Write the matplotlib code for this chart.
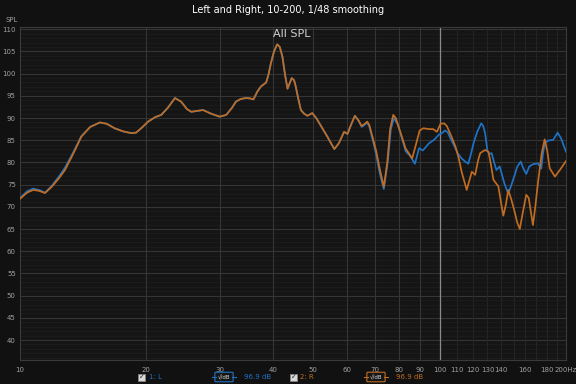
import matplotlib
matplotlib.use("Agg")
import matplotlib.pyplot as plt
from matplotlib.patches import FancyBboxPatch, Rectangle

# ---------------- data ----------------
freq_right = [10.0, 10.4, 10.75, 11.1, 11.47, 11.9, 12.4, 12.8, 13.4, 14.0, 14.7, 15.5, 16.1, 16.8,
              17.6, 18.4, 18.9, 19.5, 20.2, 21.0, 21.7, 22.5, 23.4, 24.2, 25.0, 25.6, 26.4, 27.3,
              28.5, 29.9, 31.0, 32.0, 32.7, 33.6, 34.6, 35.4, 36.0, 36.8, 37.5, 38.6, 39.1, 39.6,
              40.3, 41.0, 41.6, 42.2, 42.8, 43.4, 43.9, 44.4, 45.0, 45.4, 46.0, 46.7, 47.5, 48.4,
              49.7, 50.8, 52.0, 54.0, 56.1, 57.5, 59.2, 60.3, 61.5, 62.8, 64.0, 65.2, 66.3, 67.2,
              68.0, 69.5, 70.5, 72.0, 73.6, 75.0, 76.2, 77.5, 78.6, 80.5, 82.9, 84.5, 86.0, 87.5,
              89.6, 91.5, 94.3, 96.5, 98.5, 100.5, 102.5, 104.0, 106.5, 109.0, 111.0, 112.8, 116.0,
              119.3, 121.5, 123.5, 124.9, 128.3, 130.7, 132.5, 134.3, 138.0, 140.0, 141.8, 143.8,
              145.7, 148.0, 150.5, 153.0, 155.2, 158.0, 160.8, 163.0, 166.8, 169.0, 171.4, 175.0,
              177.9, 180.5, 182.9, 188.2, 193.4, 200.0]
spl_right = [71.8, 73.2, 73.8, 73.6, 73.1, 74.5, 76.5, 78.3, 82.0, 85.8, 88.0, 89.0, 88.7, 87.7,
             87.0, 86.6, 86.7, 87.8, 89.2, 90.2, 90.7, 92.3, 94.5, 93.7, 92.0, 91.4, 91.6, 91.8,
             91.0, 90.3, 90.7, 92.3, 93.7, 94.3, 94.5, 94.4, 94.2, 96.0, 97.1, 98.0, 99.8, 102.3,
             105.0, 106.6, 106.0, 103.8, 99.8, 96.6, 97.8, 99.0, 98.5, 97.1, 94.5, 91.8, 91.0, 90.5,
             91.1, 90.0, 88.4, 85.8, 83.0, 84.3, 86.9, 86.4, 88.5, 90.5, 89.5, 88.2, 88.7, 89.2,
             88.4, 85.0, 82.8, 78.5, 74.5, 80.0, 87.5, 90.7, 90.0, 87.0, 83.2, 82.0, 80.9, 83.5,
             87.2, 87.7, 87.5, 87.5, 86.9, 88.7, 88.8, 88.2, 86.0, 83.6, 81.0, 77.9, 73.8,
             77.9, 77.2, 80.5, 82.1, 82.8, 82.4, 79.5, 76.1, 74.6, 71.0, 68.0, 70.5,
             73.8, 71.8, 69.3, 66.5, 65.0, 69.0, 72.7, 72.0, 65.9, 70.0, 75.3, 82.0,
             85.2, 82.5, 78.7, 76.8, 78.3, 80.3]

freq_left = [10.0, 10.4, 10.75, 11.1, 11.47, 11.9, 12.4, 12.8, 13.4, 14.0, 14.7, 15.5, 16.1, 16.8,
             17.6, 18.4, 18.9, 19.5, 20.2, 21.0, 21.7, 22.5, 23.4, 24.2, 25.0, 25.6, 26.4, 27.3,
             28.5, 29.9, 31.0, 32.0, 32.7, 33.6, 34.6, 35.4, 36.0, 36.8, 37.5, 38.6, 39.1, 39.6,
             40.3, 41.0, 41.6, 42.2, 42.8, 43.4, 43.9, 44.4, 45.0, 45.4, 46.0, 46.7, 47.5, 48.4,
             49.7, 50.8, 52.0, 54.0, 56.1, 57.5, 59.2, 60.3, 61.5, 62.8, 64.0, 65.2, 66.3, 67.2,
             68.0, 69.5, 70.5, 72.0, 73.6, 75.2, 76.5, 77.8, 79.5, 81.5, 83.0, 85.0, 87.3, 89.3,
             91.2, 94.3, 97.0, 99.7, 101.0, 103.0, 104.5, 106.0, 108.0, 110.5, 112.8, 115.0, 117.0,
             118.8, 120.4, 123.0, 125.6, 127.0, 128.3, 130.0, 131.5, 133.0, 134.8, 136.5, 139.0,
             140.5, 142.6, 145.7, 148.0, 150.5, 153.0, 156.0, 158.5, 160.8, 163.5, 167.0, 171.4,
             174.6, 176.0, 177.9, 181.0, 186.5, 191.0, 194.5, 200.0]
spl_left = [72.0, 73.5, 74.1, 73.8, 73.2, 74.7, 76.9, 78.8, 82.3, 85.9, 88.0, 89.0, 88.7, 87.7,
            87.0, 86.6, 86.7, 87.8, 89.2, 90.2, 90.7, 92.3, 94.5, 93.7, 92.0, 91.4, 91.6, 91.8,
            91.0, 90.3, 90.7, 92.3, 93.7, 94.3, 94.5, 94.4, 94.2, 96.0, 97.1, 98.0, 99.8, 102.3,
            105.0, 106.6, 106.0, 103.8, 99.8, 96.6, 97.8, 99.0, 98.5, 97.1, 94.5, 91.8, 91.0, 90.5,
            91.1, 90.0, 88.4, 85.8, 83.0, 84.3, 86.9, 86.4, 88.5, 90.5, 89.5, 88.0, 88.5, 89.0,
            88.0, 84.5, 82.0, 77.5, 74.0, 80.0, 87.5, 90.0, 88.5, 85.0, 82.5, 81.5, 79.7, 83.2,
            82.7, 84.3, 85.1, 86.3, 86.5, 87.2, 86.8, 85.5, 84.0, 82.0, 80.9, 80.2, 79.7,
            82.0, 84.3, 87.0, 88.8, 88.2, 86.6, 82.5, 81.9, 82.1, 80.0, 78.3, 79.1,
            77.5, 75.3, 72.9, 74.8, 76.8, 79.0, 80.2, 78.5, 77.4, 79.1, 79.6, 79.8,
            78.6, 81.5, 84.3, 84.9, 85.1, 86.7, 85.5, 82.4]

major_x_ticks = [10, 20, 30, 40, 50, 60, 70, 80, 90, 100]
minor_x_ticks = [110, 120, 130, 140, 150, 160, 170, 180, 190]
x_tick_values = [10, 20, 30, 40, 50, 60, 70, 80, 90, 100, 110, 120, 130, 140, 160, 180, 200]
x_tick_labels = ["10", "20", "30", "40", "50", "60", "70", "80", "90", "100",
                 "110", "120", "130", "140", "160", "180", "200Hz"]
y_tick_values = [40, 45, 50, 55, 60, 65, 70, 75, 80, 85, 90, 95, 100, 105, 110]

# ---------------- style ----------------
BG = "#111111"
AX_BG = "#151515"
ORANGE = "#c06c22"
BLUE = "#1f72c6"
TXT = "#a0a0a0"

fig = plt.figure(figsize=(5.76, 3.84), dpi=100, facecolor=BG)
ax = fig.add_axes([20 / 576, 24 / 384, 546 / 576, 333 / 384])
ax.set_facecolor(AX_BG)

ax.set_xscale("log")
ax.set_xlim(10, 200)
ax.set_ylim(35.5, 110.5)

# grid: faint 1 dB lines, major 5 dB lines
for v in range(36, 111):
    if v % 5 != 0:
        ax.axhline(v, color="#1d1d1d", lw=0.6, zorder=0)
for v in y_tick_values:
    ax.axhline(v, color="#353535", lw=0.8, zorder=0)
for v in major_x_ticks:
    ax.axvline(v, color="#353535", lw=0.8, zorder=0)
for v in minor_x_ticks:
    ax.axvline(v, color="#252525", lw=0.7, zorder=0)
ax.axvline(100, color="#8a8a8a", lw=0.9, zorder=1)

ax.plot(freq_left, spl_left, color=BLUE, lw=1.25, zorder=3, solid_joinstyle="round")
ax.plot(freq_right, spl_right, color=ORANGE, lw=1.25, zorder=4, solid_joinstyle="round")

ax.set_xticks(x_tick_values)
ax.set_xticklabels(x_tick_labels)
ax.xaxis.set_minor_locator(matplotlib.ticker.NullLocator())
ax.set_yticks(y_tick_values)
ax.set_yticklabels([str(v) for v in y_tick_values])
ax.tick_params(axis="both", length=0, colors=TXT, labelsize=5)
ax.tick_params(axis="x", pad=5)
ax.tick_params(axis="y", pad=3)
for s in ax.spines.values():
    s.set_color("#3a3a3a")
    s.set_linewidth(0.8)

# texts
fig.text(0.5, 1 - 10 / 384, "Left and Right, 10-200, 1/48 smoothing", color="white",
         fontsize=7, ha="center", va="center")
fig.text(292 / 576, 1 - 34 / 384, "All SPL", color="#d0d0d0", fontsize=8,
         ha="center", va="center")
fig.text(12 / 576, 1 - 20 / 384, "SPL", color=TXT, fontsize=5, ha="center", va="center")

# legend row
ly = 1 - 377 / 384


def checkbox(xp):
    fig.patches.append(Rectangle(((xp - 3) / 576, ly - 3.5 / 384), 7 / 576, 7 / 384,
                                 transform=fig.transFigure, facecolor="#d8d8d8",
                                 edgecolor="#888888", lw=0.5))
    fig.text(xp / 576 + 0.5 / 576, ly, "✓", color="#222222", fontsize=5,
             ha="center", va="center")


def icon(xp, color):
    fig.patches.append(FancyBboxPatch(((xp - 8) / 576, ly - 4 / 384), 16 / 576, 8 / 384,
                                      boxstyle="round,pad=0.002", transform=fig.transFigure,
                                      facecolor="#151515", edgecolor=color, lw=0.8))
    fig.lines.append(matplotlib.lines.Line2D([(xp - 12) / 576, (xp - 8) / 576], [ly, ly],
                                             transform=fig.transFigure, color=color, lw=0.8))
    fig.lines.append(matplotlib.lines.Line2D([(xp + 8) / 576, (xp + 12) / 576], [ly, ly],
                                             transform=fig.transFigure, color=color, lw=0.8))
    fig.text(xp / 576, ly, "√/dB", color="#dddddd", fontsize=4, ha="center", va="center")


checkbox(141)
fig.text(149 / 576, ly, "1: L", color=BLUE, fontsize=5, ha="left", va="center")
icon(224, BLUE)
fig.text(258 / 576, ly, "96.9 dB", color=BLUE, fontsize=5, ha="center", va="center")
checkbox(293)
fig.text(300 / 576, ly, "2: R", color=ORANGE, fontsize=5, ha="left", va="center")
icon(376, ORANGE)
fig.text(410 / 576, ly, "96.9 dB", color=ORANGE, fontsize=5, ha="center", va="center")

fig.savefig("out.png", dpi=100, facecolor=BG)
